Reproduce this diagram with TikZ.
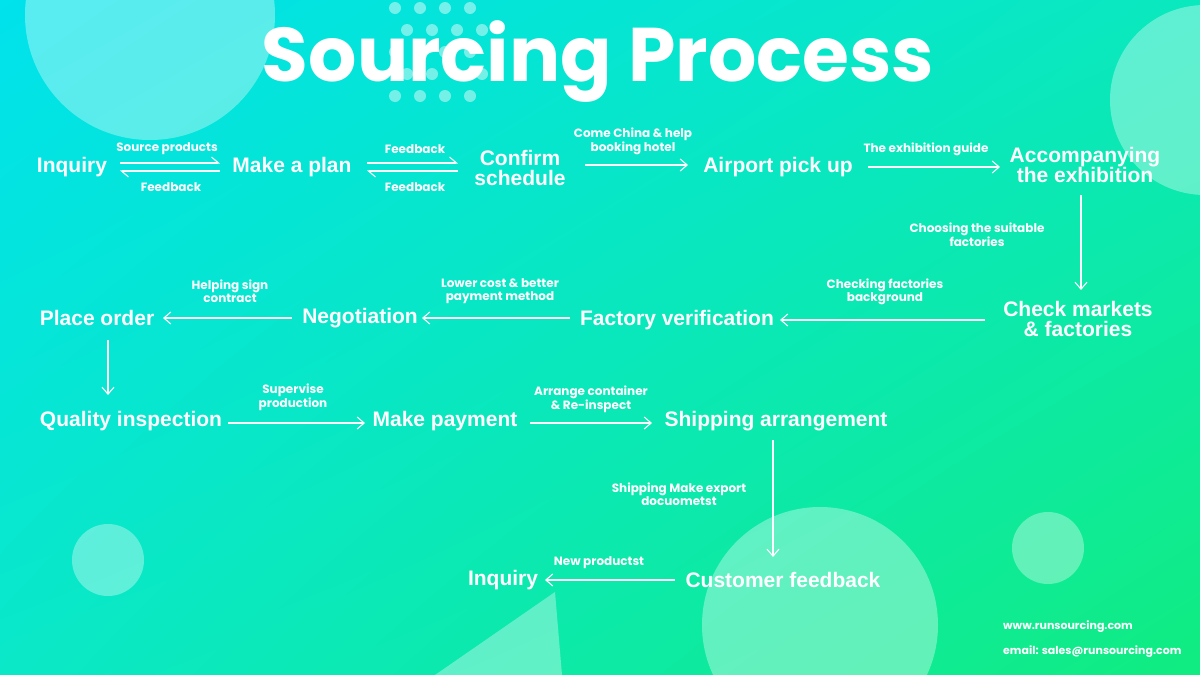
\documentclass[tikz,border=0pt]{standalone}
\usepackage{fontspec}
\setmainfont{Liberation Sans}
\newfontfamily\pop{Poppins}
\usetikzlibrary{arrows.meta,shadings}
\definecolor{cUL}{RGB}{0,226,236}
\definecolor{cUR}{RGB}{10,232,190}
\definecolor{cLL}{RGB}{10,232,200}
\definecolor{cLR}{RGB}{16,236,128}
\begin{document}
\begin{tikzpicture}[x=1pt,y=-1pt,
  stepbox/.style={font=\fontsize{21}{22}\selectfont\bfseries, text=white, align=center, inner sep=2pt},
  lbl/.style={font=\pop\fontsize{12}{12.5}\selectfont\bfseries, text=white, align=center, inner sep=1pt},
  arr/.style={draw=white, line width=1.1pt, -{Straight Barb[length=7pt,width=12pt]}},
  harp/.style={draw=white, line width=1.1pt, -{Straight Barb[left,length=7pt,width=12pt]}},
  deco/.style={fill=white, fill opacity=0.35}]
\useasboundingbox (0,0) rectangle (1200,675);
\shade[upper left=cUL, upper right=cUR, lower left=cLL, lower right=cLR] (0,0) rectangle (1200,675);
% decorations
\fill[deco] (150,15) circle (125);
\fill[deco] (1205,100) circle (95);
\fill[deco] (108,560) circle (36);
\fill[deco] (1048,548) circle (36);
\fill[deco] (820,625) circle (118);
\fill[deco] (435,675) -- (555,592) -- (562,675) -- cycle;
\foreach \i in {0,...,3}{\foreach \j in {0,...,4}{
  \fill[white, opacity=0.45] ({395+\i*25+mod(\j,2)*12},{8+\j*22}) circle (6);}}
% title
\node[font=\pop\fontsize{76}{78}\selectfont\bfseries, text=white] (title) at (598,62) {Sourcing Process};
% nodes
\node[stepbox] (inq) at (72,167) {Inquiry};
\node[stepbox] (plan) at (292,167) {Make a plan};
\node[stepbox, font=\fontsize{21}{20}\selectfont\bfseries] (conf) at (520,168) {Confirm\\schedule};
\node[stepbox] (air) at (778,167) {Airport pick up};
\node[stepbox, font=\fontsize{21}{20}\selectfont\bfseries] (acc) at (1085,165) {Accompanying\\the exhibition};
\node[stepbox, font=\fontsize{21}{20}\selectfont\bfseries] (chk) at (1078,319) {Check markets\\\& factories};
\node[stepbox] (fv) at (677,320) {Factory verification};
\node[stepbox] (neg) at (360,318) {Negotiation};
\node[stepbox] (po) at (97,318) {Place order};
\node[stepbox] (qi) at (131,421) {Quality inspection};
\node[stepbox] (mp) at (445,421) {Make payment};
\node[stepbox] (sa) at (776,421) {Shipping arrangement};
\node[stepbox] (cf) at (783,580) {Customer feedback};
\node[stepbox] (inq2) at (503,580) {Inquiry};
% connectors
\coordinate (a1) at (120,163); \coordinate (a2) at (220,163);
\coordinate (a3) at (120,171); \coordinate (a4) at (220,171);
\draw[harp] (a1) -- (a2);
\draw[harp] (a4) -- (a3);
\coordinate (b1) at (367,163); \coordinate (b2) at (458,163);
\coordinate (b3) at (367,171); \coordinate (b4) at (458,171);
\draw[harp] (b1) -- (b2);
\draw[harp] (b4) -- (b3);
\coordinate (c1) at (585,165); \coordinate (c2) at (688,165);
\draw[arr] (c1) -- (c2);
\draw[arr] (868,167) -- (1000,167);
\draw[arr] (1081,195) -- (1081,290);
\draw[arr] (985,320) -- (780,320);
\draw[arr] (570,318) -- (422,318);
\draw[arr] (292,318) -- (163,318);
\draw[arr] (108,340) -- (108,395);
\draw[arr] (228,423) -- (365,423);
\draw[arr] (530,423) -- (652,423);
\draw[arr] (773,440) -- (773,557);
\draw[arr] (675,580) -- (545,580);
% labels
\node[lbl] (l1) at (167,149) {Source products};
\node[lbl] (l2) at (171,187) {Feedback};
\node[lbl] (l3) at (415,149) {Feedback};
\node[lbl] (l4) at (415,187) {Feedback};
\node[lbl] (l5) at (633,141) {Come China \& help\\booking hotel};
\node[lbl] (l6) at (926,149) {The exhibition guide};
\node[lbl] (l7) at (977,235) {Choosing the suitable\\factories};
\node[lbl] (l8) at (885,292) {Checking factories\\background};
\node[lbl] (l9) at (500,291) {Lower cost \& better\\payment method};
\node[lbl] (l10) at (230,291) {Helping sign\\contract};
\node[lbl] (l11) at (293,397) {Supervise\\production};
\node[lbl] (l12) at (591,399) {Arrange container\\\& Re-inspect};
\node[lbl] (l13) at (679,494) {Shipping Make export\\docuometst};
\node[lbl] (l14) at (599,563) {New productst};
\node[lbl, font=\pop\fontsize{11}{12}\selectfont\bfseries, anchor=west] (w1) at (1002,627) {www.runsourcing.com};
\node[lbl, font=\pop\fontsize{11}{12}\selectfont\bfseries, anchor=west] (w2) at (1002,652) {email: sales@runsourcing.com};
\end{tikzpicture}
\end{document}
